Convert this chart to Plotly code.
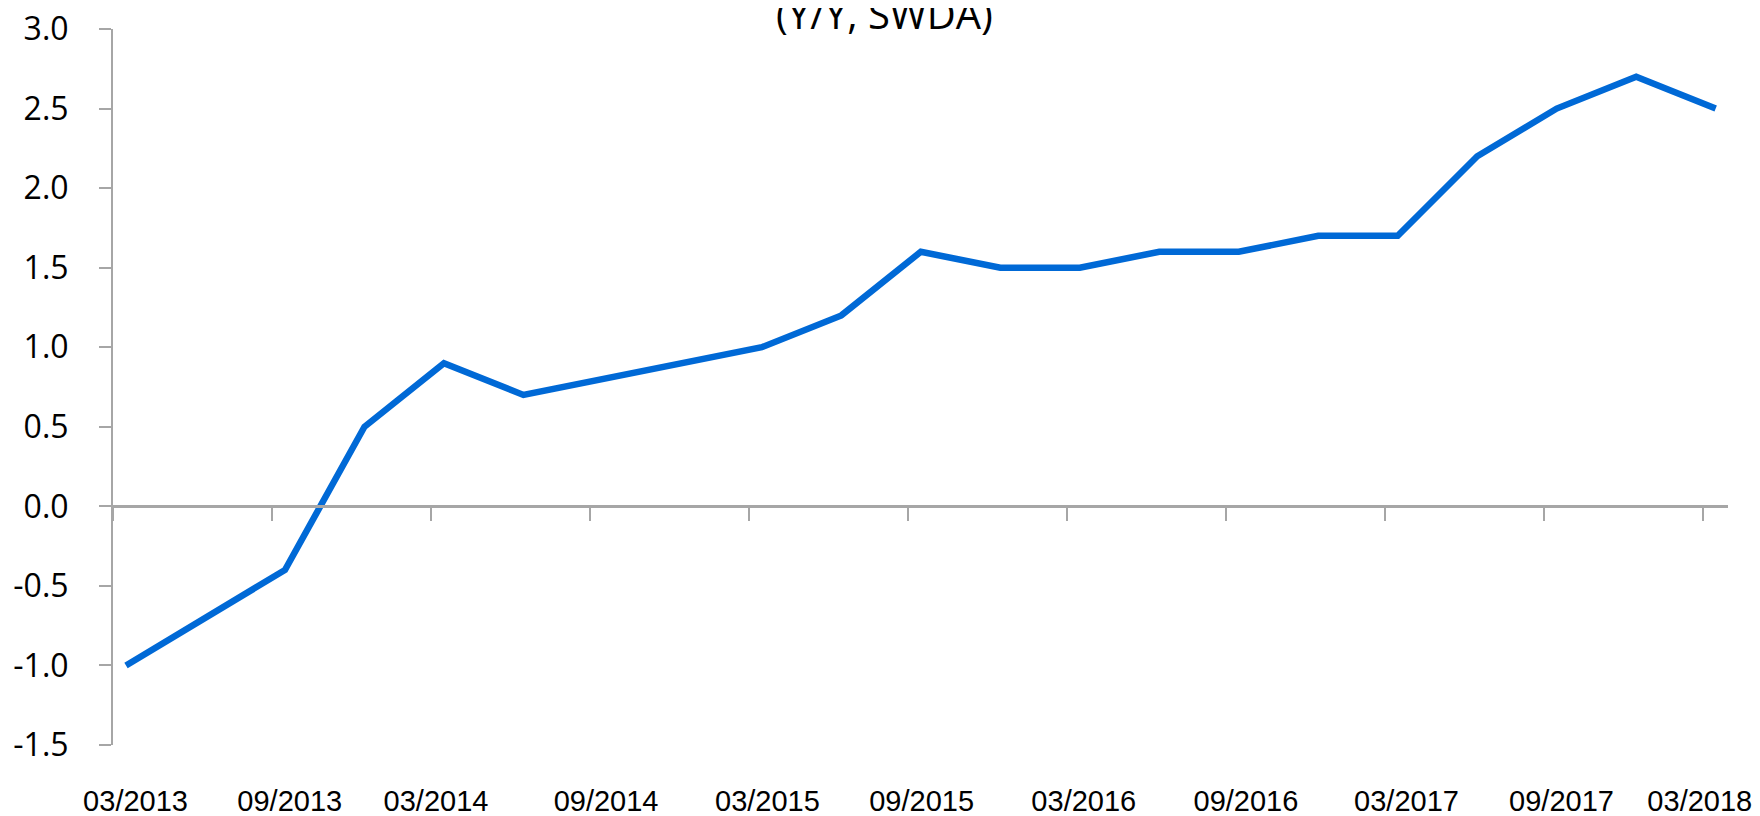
import plotly.graph_objects as go

# Quarterly observations, 03/2013 .. 03/2018 (None = no visible vertex, line drawn straight through)
quarters = ["03/2013", "06/2013", "09/2013", "12/2013", "03/2014", "06/2014", "09/2014", "12/2014",
            "03/2015", "06/2015", "09/2015", "12/2015", "03/2016", "06/2016", "09/2016", "12/2016",
            "03/2017", "06/2017", "09/2017", "12/2017", "03/2018"]
values = [-1.0, None, -0.4, 0.5, 0.9, 0.7, None, None,
          1.0, 1.2, 1.6, 1.5, 1.5, 1.6, 1.6, 1.7,
          1.7, 2.2, 2.5, 2.7, 2.5]

x_labels = ["03/2013", "09/2013", "03/2014", "09/2014", "03/2015", "09/2015",
            "03/2016", "09/2016", "03/2017", "09/2017", "03/2018"]
x_label_pos = [0.12, 2.06, 3.90, 6.04, 8.07, 10.01, 12.05, 14.09, 16.11, 18.06, 19.80]

y_ticks = [-1.5, -1.0, -0.5, 0.0, 0.5, 1.0, 1.5, 2.0, 2.5, 3.0]
y_ticktext = ["-1.5", "-1.0", "-0.5", "0.0", "0.5", "1.0", "1.5", "2.0", "2.5", "3.0"]

title_text = "(Y/Y, SWDA)"

x_min, x_max = -0.1635, 20.155
tick_marks = [x_min + 2 * k for k in range(11)]

GRAY = "#A6A6A6"
BLUE = "#0069D6"

xi = list(range(len(quarters)))

fig = go.Figure()
fig.add_trace(go.Scatter(
    x=xi, y=values, mode="lines", connectgaps=True,
    line=dict(color=BLUE, width=6.5), hoverinfo="skip", showlegend=False,
    text=quarters,
))
fig.add_trace(go.Scatter(x=[None], y=[None], xaxis="x2", yaxis="y",
                         mode="lines", showlegend=False, hoverinfo="skip"))

fig.update_layout(
    width=1760, height=816,
    margin=dict(l=105, r=40, t=21, b=79, autoexpand=False),
    paper_bgcolor="white", plot_bgcolor="white",
    showlegend=False,
    xaxis=dict(
        range=[x_min, x_max], tickmode="array", tickvals=x_label_pos, ticktext=x_labels,
        ticks="", showline=False, showgrid=False, zeroline=False, automargin=False,
        tickfont=dict(family="Liberation Sans, Arial", size=29, color="black"),
        ticklabelstandoff=36, ticklabeloverflow="allow",
    ),
    xaxis2=dict(
        range=[x_min, x_max], overlaying="x", anchor="free", position=1/3, side="bottom",
        tickmode="array", tickvals=tick_marks, showticklabels=False, automargin=False,
        ticks="outside", ticklen=13, tickwidth=1.5, tickcolor=GRAY,
        showline=True, linecolor=GRAY, linewidth=2.5, showgrid=False, zeroline=False,
    ),
    yaxis=dict(
        range=[-1.5, 3.0], tickmode="array", tickvals=y_ticks, ticktext=y_ticktext,
        ticks="outside", ticklen=12, tickwidth=1.5, tickcolor=GRAY, automargin=False,
        showline=True, linecolor=GRAY, linewidth=2, showgrid=False, zeroline=False,
        tickfont=dict(family="Open Sans", size=32, color="black"),
        ticklabelstandoff=24, ticklabeloverflow="allow",
    ),
    annotations=[dict(
        text=title_text, xref="paper", yref="paper", x=0.478, y=0.9804,
        xanchor="center", yanchor="bottom", showarrow=False,
        font=dict(family="Open Sans", size=40, color="black"),
    )],
)

fig.write_html("out.html")
